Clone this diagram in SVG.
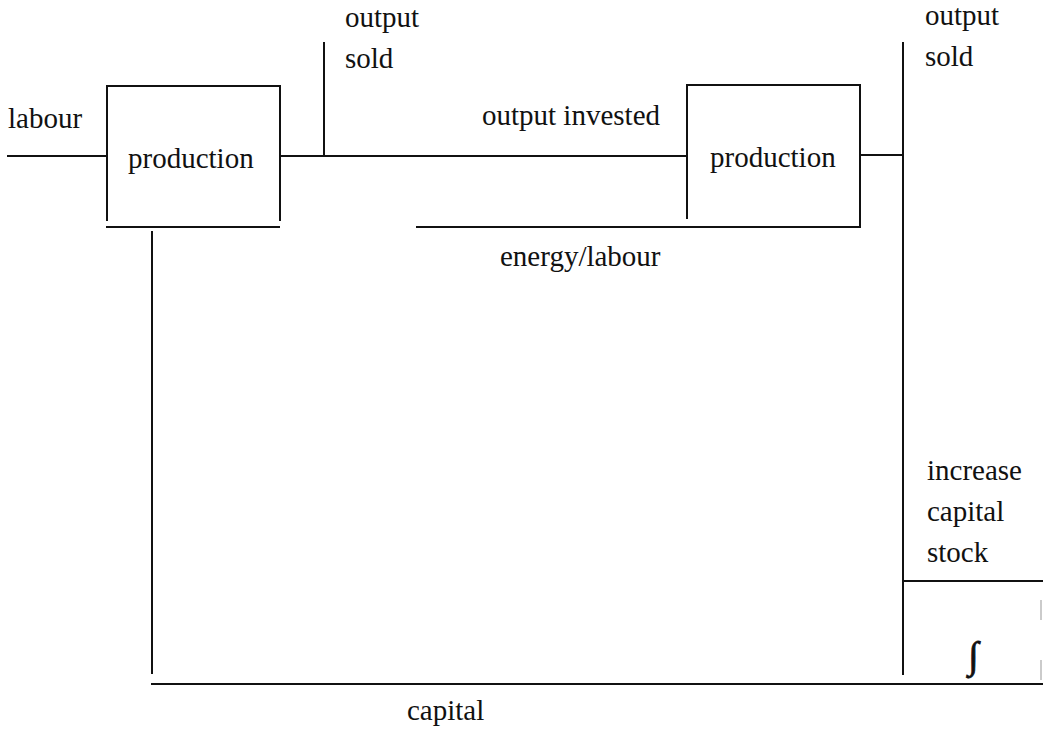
<svg xmlns="http://www.w3.org/2000/svg" width="1043" height="732" viewBox="0 0 1043 732">
<style>
.ln{stroke:#111;stroke-width:2;fill:none;stroke-linecap:square}
.faint{stroke:#bbb;stroke-width:1.5;fill:none;stroke-dasharray:20 40}
.t{font-family:'Liberation Serif','DejaVu Serif','Times New Roman',serif;font-size:29px;fill:#111}
</style>
<rect width="1043" height="732" fill="#fff"/>
<g id="connectors">
<line class="ln" x1="8" y1="156" x2="107" y2="156"/>
<line class="ln" x1="280" y1="156" x2="687" y2="156"/>
<line class="ln" x1="324" y1="43" x2="324" y2="156"/>
<line class="ln" x1="107" y1="227" x2="279" y2="227"/>
<line class="ln" x1="152" y1="232" x2="152" y2="673"/>
<line class="ln" x1="417" y1="227" x2="860" y2="227"/>
<line class="ln" x1="860" y1="155" x2="903" y2="155"/>
<line class="ln" x1="903" y1="43" x2="903" y2="674"/>
<line class="ln" x1="905" y1="581" x2="1043" y2="581"/>
<line class="faint" x1="1041" y1="600" x2="1041" y2="680"/>
<line class="ln" x1="152" y1="684" x2="1043" y2="684"/>
</g>
<g id="production1">
<path class="ln" d="M107 220 V86 H280 V220"/>
<text class="t" x="128" y="168">production</text>
</g>
<g id="production2">
<path class="ln" d="M687 218 V85 H860 V227"/>
<text class="t" x="710" y="167">production</text>
</g>
<g id="integrator">
<text class="t" x="968" y="668" style="font-size:38px;stroke:#111;stroke-width:0.8">∫</text>
</g>
<g id="labels">
<text class="t" x="8" y="128">labour</text>
<text class="t" x="345" y="27">output</text>
<text class="t" x="345" y="68">sold</text>
<text class="t" x="482" y="125">output invested</text>
<text class="t" x="500" y="266">energy/labour</text>
<text class="t" x="925" y="25">output</text>
<text class="t" x="925" y="66">sold</text>
<text class="t" x="927" y="480">increase</text>
<text class="t" x="927" y="521">capital</text>
<text class="t" x="927" y="562">stock</text>
<text class="t" x="407" y="720">capital</text>
</g>
</svg>
